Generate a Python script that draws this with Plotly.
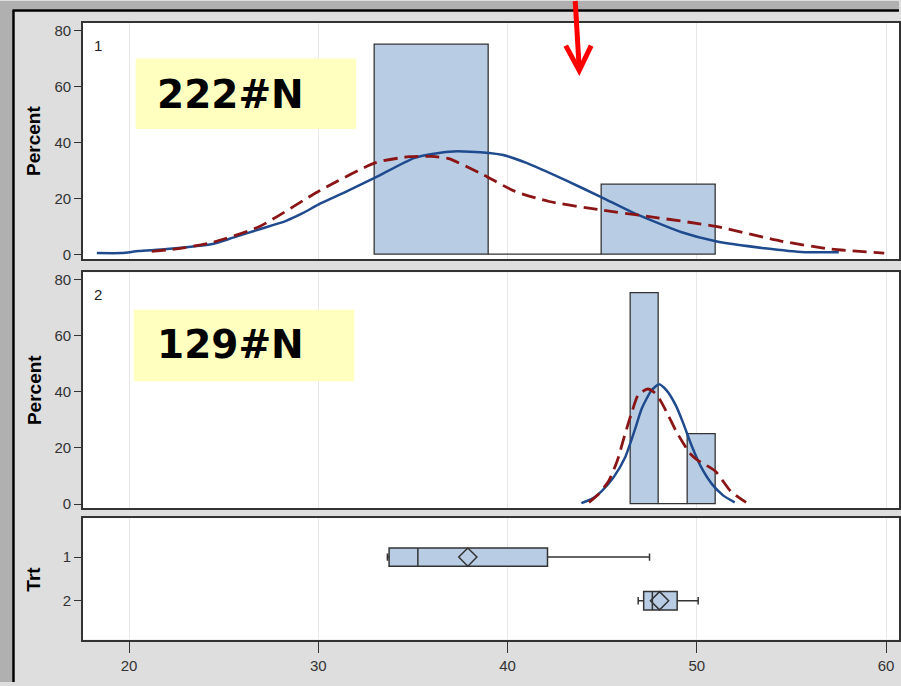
import plotly.graph_objects as go

# ---------------- data ----------------
hist1_centers = [36, 42, 48]
hist1_pct = [75, 0, 25]
hist1_binwidth = 6

hist2_centers = [47.25, 48.75, 50.25]
hist2_pct = [75, 0, 25]
hist2_binwidth = 1.5

# kernel density (solid blue) and second density (dashed red), Trt 1
kde1_x = [18.3, 19.6, 20.5, 22.0, 24.4, 25.5, 26.9, 28.3, 29.2, 30.0, 31.5, 33.0, 35.1, 36.9,
          38.0, 39.7, 41.0, 43.0, 45.0, 46.6, 49.2, 51.0, 53.6, 55.7, 57.5]
kde1_y = [0.5, 0.5, 1.2, 1.9, 3.7, 6.0, 9.0, 12.0, 14.8, 17.8, 22.5, 27.4, 34.5, 36.7,
          36.7, 35.6, 32.7, 26.7, 20.3, 15.0, 7.9, 4.7, 2.2, 0.8, 0.8]
dens1_x = [21.2, 22.5, 24.4, 26.9, 30.0, 33.0, 34.8, 36.0, 36.9, 38.7, 40.4, 42.2, 44.8,
           47.4, 51.0, 54.5, 57.1, 59.9]
dens1_y = [1.1, 2.0, 4.3, 10.0, 22.5, 32.7, 34.9, 35.0, 34.2, 28.5, 22.5, 18.9, 16.0,
           13.6, 10.0, 4.7, 1.9, 0.5]

# Trt 2
kde2_x = [43.9, 44.5, 45.0, 45.6, 46.2, 46.7, 47.1, 47.6, 48.0, 48.4, 48.9, 49.3, 49.7,
          50.2, 50.8, 51.4, 52.0]
kde2_y = [0.35, 2.0, 4.8, 9.5, 16.5, 26.0, 34.2, 40.5, 42.7, 40.5, 35.0, 28.5, 21.2,
          13.5, 7.1, 3.0, 0.6]
dens2_x = [44.3, 44.8, 45.35, 45.8, 46.2, 46.6, 46.9, 47.4, 47.8, 48.1, 48.5, 48.9, 49.3,
           49.6, 50.0, 50.5, 50.97, 51.4, 51.8, 52.6]
dens2_y = [0.6, 3.5, 8.3, 15.5, 24.8, 33.5, 38.9, 41.0, 39.5, 36.6, 31.5, 26.0, 21.5,
           18.3, 15.8, 13.8, 11.8, 8.0, 4.5, 0.6]

# box plot statistics
trt = [1, 2]
box_q1 = [33.74, 47.19]
box_median = [35.26, 47.65]
box_q3 = [42.11, 48.96]
box_lower = [33.65, 46.9]
box_upper = [47.5, 50.07]
box_mean = [37.9, 48.03]

x_ticks = [20, 30, 40, 50, 60]
pct_ticks = [0, 20, 40, 60, 80]
panel_labels = ["1", "2"]
notes = ["222#N", "129#N"]

# ---------------- styles ----------------
W, H = 901, 686
BAR_FILL = "#b8cde4"
EDGE = "#333333"
BLUE = "#1f4b8e"
RED = "#8b1414"
GRID = "#e8e8e8"
FONT = "Liberation Sans, Arial, sans-serif"


def px(x):
    return x / W


def py(y):
    return 1 - y / H


fig = go.Figure()

# histograms
fig.add_trace(go.Bar(x=hist1_centers, y=hist1_pct, width=hist1_binwidth,
                     marker=dict(color=BAR_FILL, line=dict(color=EDGE, width=1.3)),
                     xaxis="x2", yaxis="y", showlegend=False))
fig.add_trace(go.Bar(x=hist2_centers, y=hist2_pct, width=hist2_binwidth,
                     marker=dict(color=BAR_FILL, line=dict(color=EDGE, width=1.3)),
                     xaxis="x3", yaxis="y2", showlegend=False))

# density curves
for xs, ys, xa, ya in [(kde1_x, kde1_y, "x2", "y"), (kde2_x, kde2_y, "x3", "y2")]:
    fig.add_trace(go.Scatter(x=xs, y=ys, mode="lines", xaxis=xa, yaxis=ya,
                             line=dict(color=BLUE, width=2.5, shape="spline", smoothing=0.6),
                             showlegend=False))
for xs, ys, xa, ya in [(dens1_x, dens1_y, "x2", "y"), (dens2_x, dens2_y, "x3", "y2")]:
    fig.add_trace(go.Scatter(x=xs, y=ys, mode="lines", xaxis=xa, yaxis=ya,
                             line=dict(color=RED, width=2.8, shape="spline", smoothing=0.6,
                                       dash="14px,7px"),
                             showlegend=False))

# box plot
fig.add_trace(go.Box(orientation="h", y=trt, q1=box_q1, median=box_median, q3=box_q3,
                     lowerfence=box_lower, upperfence=box_upper, width=0.42,
                     whiskerwidth=0.4, fillcolor=BAR_FILL,
                     line=dict(color=EDGE, width=1.5), boxpoints=False,
                     xaxis="x", yaxis="y3", showlegend=False))
fig.add_trace(go.Scatter(x=box_mean, y=trt, mode="markers", xaxis="x", yaxis="y3",
                         marker=dict(symbol="diamond-open", size=14,
                                     line=dict(color=EDGE, width=1.5), color=EDGE),
                         showlegend=False))

# ---------------- axes ----------------
xrange = [20 - (129.3 - 83) / 18.97, 20 + (901 - 129.3) / 18.97]
common_axis = dict(showline=True, linecolor=EDGE, linewidth=1.5, mirror=True,
                   tickfont=dict(family=FONT, size=15, color="#333333"),
                   zeroline=False)

dom1 = [py(260), py(22)]
dom2 = [py(510.7), py(273.3)]
dom3 = [py(643.3), py(521)]

fig.update_layout(
    width=W, height=H,
    margin=dict(l=0, r=0, t=0, b=0),
    paper_bgcolor="#dedede",
    plot_bgcolor="white",
    bargap=0,
    xaxis=dict(domain=[px(83), 1.0], range=xrange, anchor="y3",
               tickvals=x_ticks, ticks="outside", ticklen=12, tickcolor=EDGE,
               showgrid=True, gridcolor=GRID, gridwidth=1, **common_axis),
    xaxis2=dict(domain=[px(83), 1.0], range=xrange, anchor="y", matches="x",
                tickvals=x_ticks, showticklabels=False, ticks="",
                showgrid=True, gridcolor=GRID, gridwidth=1, **common_axis),
    xaxis3=dict(domain=[px(83), 1.0], range=xrange, anchor="y2", matches="x",
                tickvals=x_ticks, showticklabels=False, ticks="",
                showgrid=True, gridcolor=GRID, gridwidth=1, **common_axis),
    yaxis=dict(domain=dom1, range=[-1.67, 82.7], anchor="x2", tickvals=pct_ticks,
               ticks="outside", ticklen=7, tickcolor=EDGE, showgrid=False, **common_axis),
    yaxis2=dict(domain=dom2, range=[-1.4, 82.6], anchor="x3", tickvals=pct_ticks,
                ticks="outside", ticklen=7, tickcolor=EDGE, showgrid=False, **common_axis),
    yaxis3=dict(domain=dom3, range=[2.89, 0.11], anchor="x", tickvals=trt,
                ticktext=[str(t) for t in trt],
                ticks="outside", ticklen=7, tickcolor=EDGE, showgrid=False, **common_axis),
)

# ---------------- frame and decorations ----------------
shapes = [
    dict(type="rect", xref="paper", yref="paper", x0=0, x1=1, y0=py(8.5), y1=1,
         fillcolor="#b0b0b0", line=dict(width=0), layer="below"),
    dict(type="rect", xref="paper", yref="paper", x0=0, x1=px(12.5), y0=0, y1=1,
         fillcolor="#b0b0b0", line=dict(width=0), layer="below"),
    dict(type="line", xref="paper", yref="paper", x0=px(12.5), x1=1, y0=py(9.5), y1=py(9.5),
         line=dict(color="black", width=2.5), layer="below"),
    dict(type="line", xref="paper", yref="paper", x0=px(13.5), x1=px(13.5), y0=0, y1=py(9.5),
         line=dict(color="black", width=2.5), layer="below"),
    dict(type="rect", xref="paper", yref="paper", x0=px(136), x1=px(357), y0=py(129), y1=py(58),
         fillcolor="#ffffc0", line=dict(width=0), layer="above"),
    dict(type="rect", xref="paper", yref="paper", x0=px(134), x1=px(355), y0=py(383), y1=py(311),
         fillcolor="#ffffc0", line=dict(width=0), layer="above"),
    dict(type="line", xref="paper", yref="paper", x0=px(576.5), y0=1.0, x1=px(580.5), y1=py(68),
         line=dict(color="#ff0000", width=5), layer="above"),
    dict(type="path", xref="paper", yref="paper",
         path=f"M {px(567)},{py(45)} L {px(580.5)},{py(70)} L {px(592.5)},{py(45)}",
         line=dict(color="#ff0000", width=5), layer="above"),
]
fig.update_layout(shapes=shapes)

annotations = []
for lab, yy in zip(panel_labels, [45, 296]):
    annotations.append(dict(text=lab, xref="paper", yref="paper", x=px(92), y=py(yy),
                            xanchor="left", yanchor="middle", showarrow=False,
                            font=dict(family=FONT, size=15, color="#222")))
for note, yy in zip(notes, [94, 346]):
    annotations.append(dict(text=f"<b>{note}</b>", xref="paper", yref="paper", x=px(155), y=py(yy),
                            xanchor="left", yanchor="middle", showarrow=False,
                            font=dict(family="Comic Sans MS, DejaVu Sans, sans-serif", size=39,
                                      color="black")))
for title, yy in [("Percent", 141), ("Percent", 392), ("Trt", 582)]:
    annotations.append(dict(text=f"<b>{title}</b>", xref="paper", yref="paper", x=px(34), y=py(yy),
                            xanchor="center", yanchor="middle", showarrow=False, textangle=-90,
                            font=dict(family=FONT, size=19, color="black")))
fig.update_layout(annotations=annotations)

fig.write_html("out.html", config={"displayModeBar": False},
               post_script="document.body.style.margin='0';document.body.style.overflow='hidden';")
